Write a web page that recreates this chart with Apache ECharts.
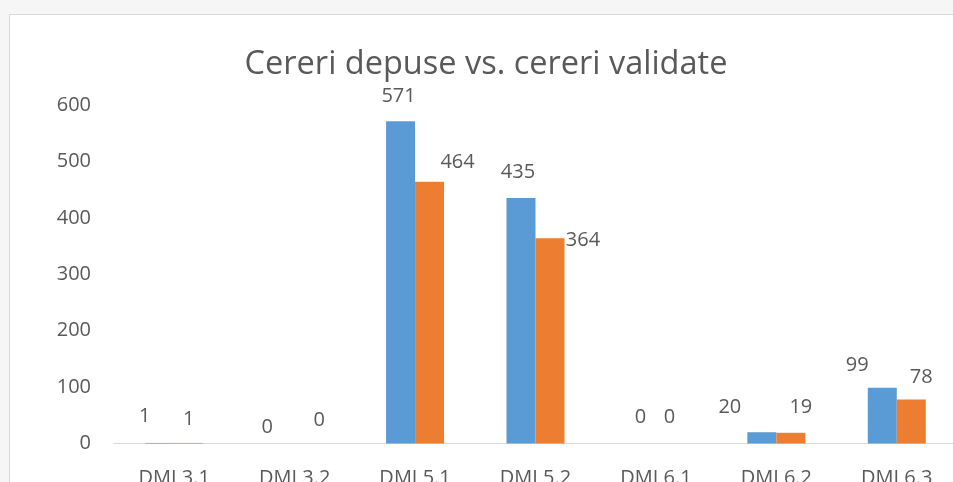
<!DOCTYPE html>
<html>
<head>
<meta charset="utf-8">
<script src="https://cdn.jsdelivr.net/npm/echarts@6/dist/echarts.min.js"></script>
<style>
  html, body { margin: 0; padding: 0; background: #f6f6f6; }
  #chart { width: 953px; height: 482px; }
</style>
</head>
<body>
<div id="chart"></div>
<script>
// date
const categories = ['DMI 3.1', 'DMI 3.2', 'DMI 5.1', 'DMI 5.2', 'DMI 6.1', 'DMI 6.2', 'DMI 6.3'];
const depuse = [1, 0, 571, 435, 0, 20, 99];
const validate = [1, 0, 464, 364, 0, 19, 78];
const yTicks = [0, 100, 200, 300, 400, 500, 600];

// deplasarea etichetelor (asa cum apar in Excel)
const shiftDepuse = [[-15, -12], [-13, -1], [-2, -10], [-3, -11], [-1, -11], [-32, -10], [-25, -7]];
const shiftValidate = [[0, -9], [10, -8], [28, -4], [33, 17], [-1, -11], [10, -10], [10, -7]];

const labelFont = 'Open Sans';
const textColor = '#595959';

function withLabels(values, shifts) {
  return values.map((v, i) => ({
    value: v,
    label: { offset: shifts[i] }
  }));
}

const chart = echarts.init(document.getElementById('chart'));
const option = {
  backgroundColor: '#f6f6f6',
  animation: false,
  graphic: [
    {
      type: 'rect',
      z: -10,
      shape: { x: 9.5, y: 14.5, width: 1000, height: 600 },
      style: { fill: '#ffffff', stroke: '#d9d9d9', lineWidth: 1 }
    }
  ],
  title: {
    text: 'Cereri depuse vs. cereri validate',
    left: 481,
    textAlign: 'center',
    top: 43,
    textStyle: {
      fontFamily: labelFont,
      fontSize: 32.5,
      fontWeight: 'normal',
      color: textColor
    }
  },
  grid: {
    left: 114,
    top: 105,
    width: 843,
    bottom: 38.5,
    outerBoundsMode: 'none',
    containLabel: false
  },
  xAxis: {
    type: 'category',
    data: categories,
    axisLine: { lineStyle: { color: '#d9d9d9', width: 1 } },
    axisTick: { show: false },
    axisLabel: {
      color: textColor,
      fontFamily: labelFont,
      fontSize: 20,
      margin: 25,
      interval: 0
    }
  },
  yAxis: {
    type: 'value',
    min: yTicks[0],
    max: yTicks[yTicks.length - 1],
    interval: 100,
    splitLine: { show: false },
    axisLine: { show: false },
    axisTick: { show: false },
    axisLabel: {
      color: textColor,
      fontFamily: labelFont,
      fontSize: 20,
      margin: 23
    }
  },
  series: [
    {
      name: 'Cereri depuse',
      type: 'bar',
      data: withLabels(depuse, shiftDepuse),
      barWidth: 29,
      barGap: '0%',
      itemStyle: { color: '#5b9bd5' },
      label: {
        show: true,
        position: 'top',
        color: textColor,
        fontFamily: labelFont,
        fontSize: 20
      }
    },
    {
      name: 'Cereri validate',
      type: 'bar',
      data: withLabels(validate, shiftValidate),
      barWidth: 29,
      barGap: '0%',
      itemStyle: { color: '#ed7d31' },
      label: {
        show: true,
        position: 'top',
        color: textColor,
        fontFamily: labelFont,
        fontSize: 20
      }
    }
  ]
};
chart.setOption(option);
</script>
</body>
</html>
